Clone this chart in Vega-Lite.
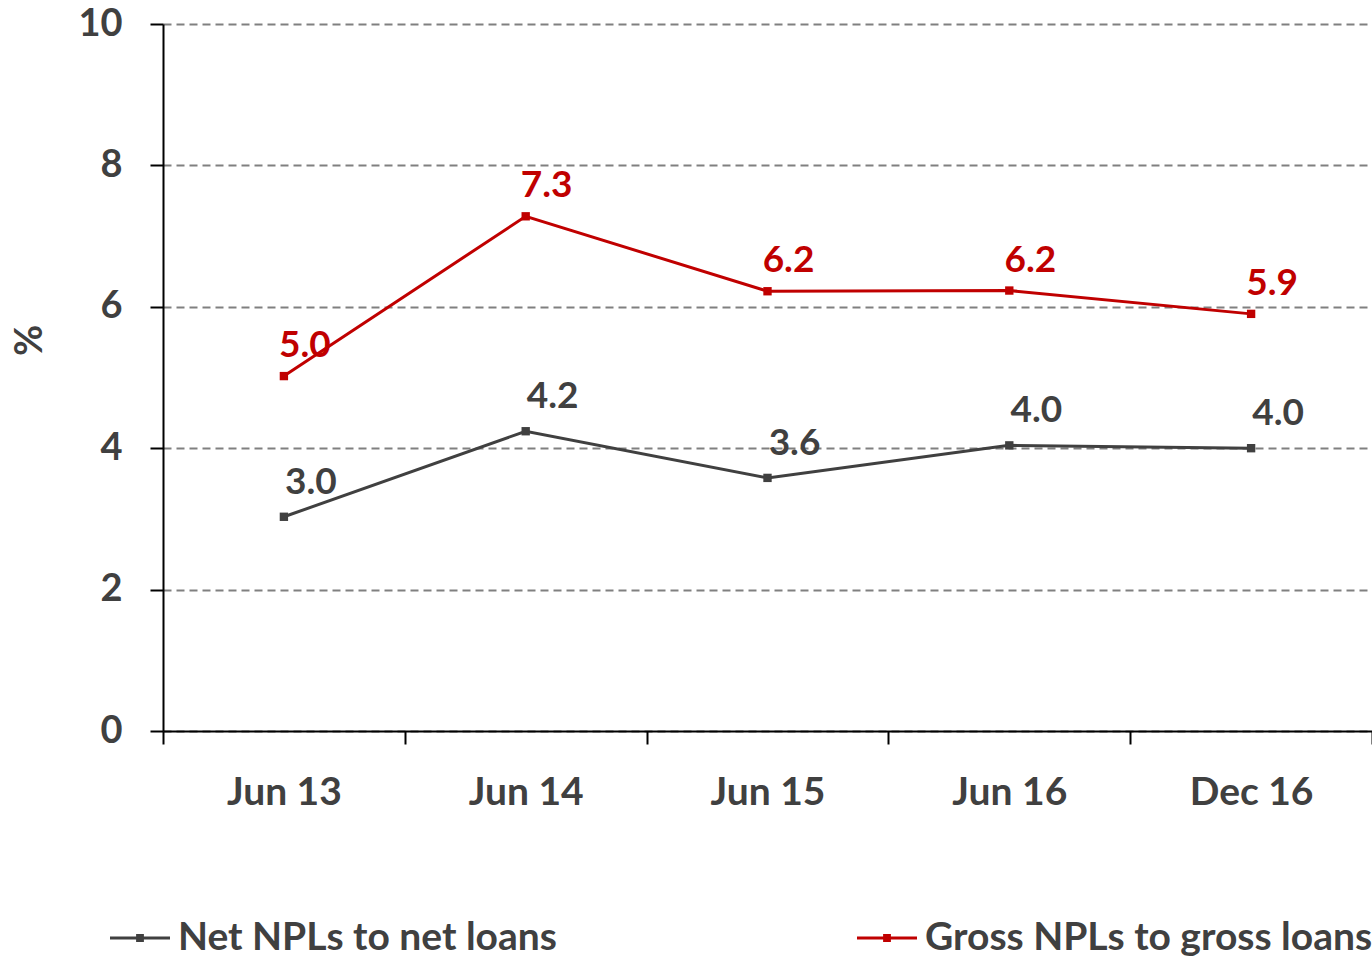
{
  "$schema": "https://vega.github.io/schema/vega-lite/v6.json",
  "width": 1209,
  "height": 707,
  "autosize": {"type": "none"},
  "padding": {"left": 163, "top": 24, "right": 0, "bottom": 228},
  "background": "#ffffff",
  "config": {
    "font": "Lato",
    "view": {"stroke": null},
    "axis": {"labelFont": "Lato", "labelFontWeight": "bold", "labelColor": "#404040", "labelFontSize": 39, "titleFont": "Lato"},
    "legend": {"labelFont": "Lato"}
  },
  "data": {
    "values": [
      {"period": "Jun 13", "series": "Net NPLs to net loans", "value": 3.03},
      {"period": "Jun 14", "series": "Net NPLs to net loans", "value": 4.24},
      {"period": "Jun 15", "series": "Net NPLs to net loans", "value": 3.58},
      {"period": "Jun 16", "series": "Net NPLs to net loans", "value": 4.04},
      {"period": "Dec 16", "series": "Net NPLs to net loans", "value": 4.0},
      {"period": "Jun 13", "series": "Gross NPLs to gross loans", "value": 5.02},
      {"period": "Jun 14", "series": "Gross NPLs to gross loans", "value": 7.28},
      {"period": "Jun 15", "series": "Gross NPLs to gross loans", "value": 6.22},
      {"period": "Jun 16", "series": "Gross NPLs to gross loans", "value": 6.23},
      {"period": "Dec 16", "series": "Gross NPLs to gross loans", "value": 5.9}
    ]
  },
  "encoding": {
    "x": {
      "field": "period", "type": "nominal", "sort": ["Jun 13", "Jun 14", "Jun 15", "Jun 16", "Dec 16"],
      "scale": {"paddingInner": 0, "paddingOuter": 0},
      "axis": {"title": null, "labelAngle": 0, "domainColor": "#000000", "domainWidth": 2, "tickColor": "#000000", "tickWidth": 2, "tickSize": 13, "tickBand": "extent", "labelPadding": 29, "grid": false}
    },
    "y": {
      "field": "value", "type": "quantitative",
      "scale": {"domain": [0, 10], "nice": false},
      "axis": {"values": [0, 2, 4, 6, 8, 10], "title": "%", "titleFontSize": 38, "titleFontWeight": "bold", "titleColor": "#404040", "titleAngle": -90, "titleX": -133, "titleY": 316, "titleAlign": "center", "titleBaseline": "middle",
        "labelFontSize": 38, "domainColor": "#000000", "domainWidth": 2, "tickColor": "#000000", "tickWidth": 2, "tickSize": 13, "labelPadding": 28,
        "grid": true, "gridColor": "#808080", "gridDash": [8, 5], "gridWidth": 2}
    },
    "color": {
      "field": "series", "type": "nominal",
      "scale": {"domain": ["Net NPLs to net loans", "Gross NPLs to gross loans"], "range": ["#404040", "#C00000"]}
    }
  },
  "layer": [
    {
      "mark": {"type": "line", "strokeWidth": 3},
      "encoding": {
        "color": {
          "field": "series", "type": "nominal",
          "scale": {"domain": ["Net NPLs to net loans", "Gross NPLs to gross loans"], "range": ["#404040", "#C00000"]},
          "legend": {
            "title": null, "orient": "none", "direction": "horizontal", "legendX": -53, "legendY": 884,
            "symbolType": "M-1,-0.05H1V0.05H-1Z M-0.13,-0.13H0.13V0.13H-0.13Z", "symbolSize": 3600, "symbolStrokeWidth": 0,
            "labelFontSize": 39, "labelFontWeight": "bold", "labelColor": "#404040", "labelLimit": 600, "labelOffset": 8, "columnPadding": 300,
            "encode": {"symbols": {"update": {"fill": {"scale": "color", "field": "value"}, "fillOpacity": {"value": 1}, "strokeWidth": {"value": 0}}}}
          }
        }
      }
    },
    {
      "mark": {"type": "point", "shape": "square", "filled": true, "size": 70, "opacity": 1}
    },
    {
      "transform": [{"filter": "datum.series == 'Gross NPLs to gross loans'"}],
      "mark": {"type": "text", "fontSize": 37, "fontWeight": "bold", "dx": 21, "dy": -30, "font": "Lato"},
      "encoding": {"text": {"field": "value", "type": "quantitative", "format": ".1f"}}
    },
    {
      "transform": [{"filter": "datum.series == 'Net NPLs to net loans'"}],
      "mark": {"type": "text", "fontSize": 37, "fontWeight": "bold", "dx": 27, "dy": -34, "font": "Lato"},
      "encoding": {"text": {"field": "value", "type": "quantitative", "format": ".1f"}}
    }
  ]
}
